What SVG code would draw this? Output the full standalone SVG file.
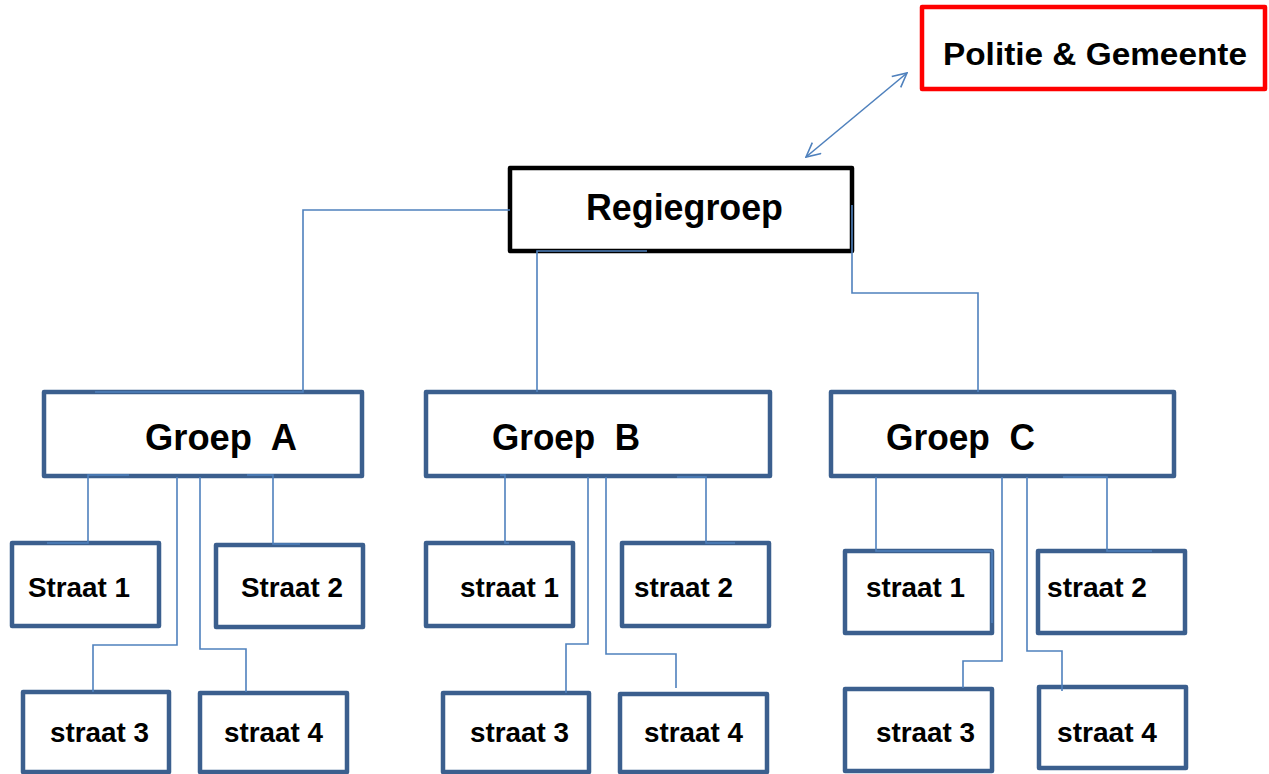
<svg xmlns="http://www.w3.org/2000/svg" width="1269" height="774" viewBox="0 0 1269 774">
<defs>
<style>
.box{fill:#fff;stroke:#3b5f8e;stroke-width:4.5;stroke-linejoin:round}
.reg{fill:#fff;stroke:#000;stroke-width:4.5;stroke-linejoin:round}
.pol{fill:#fff;stroke:#ff0000;stroke-width:4.5;stroke-linejoin:round}
.con{fill:none;stroke:#4f81bd;stroke-width:1.6}
text{font-family:"Liberation Sans",Arial,sans-serif;font-weight:bold;fill:#000}
.s{font-size:28px}
.g{font-size:37px}
</style>
<marker id="ah" viewBox="0 0 16 16" refX="15" refY="8" markerWidth="16" markerHeight="16" markerUnits="userSpaceOnUse" orient="auto-start-reverse">
<path d="M1,1 L15,8 L1,15" fill="none" stroke="#4f81bd" stroke-width="1.6"/>
</marker>
</defs>

<g id="politie">
<rect class="pol" x="922" y="7" width="343" height="82"/>
<text x="943" y="65" font-size="32" textLength="304" lengthAdjust="spacingAndGlyphs">Politie &amp; Gemeente</text>
</g>
<g id="regiegroep">
<rect class="reg" x="510" y="168" width="342" height="83"/>
<text x="586" y="220" font-size="36" textLength="197" lengthAdjust="spacingAndGlyphs">Regiegroep</text>
</g>

<g id="groepA">
<rect class="box" x="44" y="392" width="318" height="84"/>
<text class="g" x="145" y="450" xml:space="preserve" textLength="152" lengthAdjust="spacingAndGlyphs">Groep  A</text>
</g>
<g id="groepB">
<rect class="box" x="426" y="392" width="344" height="84"/>
<text class="g" x="492" y="450" xml:space="preserve" textLength="148" lengthAdjust="spacingAndGlyphs">Groep  B</text>
</g>
<g id="groepC">
<rect class="box" x="831" y="392" width="343" height="84"/>
<text class="g" x="886" y="450" xml:space="preserve" textLength="149" lengthAdjust="spacingAndGlyphs">Groep  C</text>
</g>

<g id="A1"><rect class="box" x="12" y="543" width="147" height="83"/><text class="s" x="28" y="597" textLength="102" lengthAdjust="spacingAndGlyphs">Straat 1</text></g>
<g id="A2"><rect class="box" x="216" y="545" width="147" height="82"/><text class="s" x="241" y="597" textLength="102" lengthAdjust="spacingAndGlyphs">Straat 2</text></g>
<g id="A3"><rect class="box" x="23" y="692" width="146" height="80"/><text class="s" x="50" y="742" textLength="99" lengthAdjust="spacingAndGlyphs">straat 3</text></g>
<g id="A4"><rect class="box" x="200" y="693" width="147" height="79"/><text class="s" x="224" y="742" textLength="99" lengthAdjust="spacingAndGlyphs">straat 4</text></g>

<g id="B1"><rect class="box" x="426" y="543" width="147" height="83"/><text class="s" x="460" y="597" textLength="99" lengthAdjust="spacingAndGlyphs">straat 1</text></g>
<g id="B2"><rect class="box" x="622" y="543" width="147" height="83"/><text class="s" x="634" y="597" textLength="99" lengthAdjust="spacingAndGlyphs">straat 2</text></g>
<g id="B3"><rect class="box" x="443" y="693" width="146" height="79"/><text class="s" x="470" y="742" textLength="99" lengthAdjust="spacingAndGlyphs">straat 3</text></g>
<g id="B4"><rect class="box" x="620" y="694" width="147" height="78"/><text class="s" x="644" y="742" textLength="99" lengthAdjust="spacingAndGlyphs">straat 4</text></g>

<g id="C1"><rect class="box" x="845" y="551" width="147" height="82"/><text class="s" x="866" y="597" textLength="99" lengthAdjust="spacingAndGlyphs">straat 1</text></g>
<g id="C2"><rect class="box" x="1038" y="551" width="147" height="82"/><text class="s" x="1047" y="597" textLength="100" lengthAdjust="spacingAndGlyphs">straat 2</text></g>
<g id="C3"><rect class="box" x="845" y="689" width="147" height="82"/><text class="s" x="876" y="742" textLength="99" lengthAdjust="spacingAndGlyphs">straat 3</text></g>
<g id="C4"><rect class="box" x="1039" y="687" width="147" height="81"/><text class="s" x="1057" y="742" textLength="100" lengthAdjust="spacingAndGlyphs">straat 4</text></g>

<g id="connectors">
<line class="con" x1="907" y1="73" x2="806" y2="157" marker-start="url(#ah)" marker-end="url(#ah)"/>
<path class="con" d="M510,210 H303 V392 H95"/>
<path class="con" d="M647,251 H537 V392"/>
<path class="con" d="M852,205 V293 H978 V392"/>

<path class="con" d="M129,475 H88 V543 H47"/>
<path class="con" d="M247,475 H273 V544 H300"/>
<path class="con" d="M177,477 V645 H93 V692"/>
<path class="con" d="M200,477 V649 H246 V692"/>

<path class="con" d="M500,475 H505 V543 H509"/>
<path class="con" d="M677,477 H706 V543 H735"/>
<path class="con" d="M588,477 V644 H566 V693"/>
<path class="con" d="M606,477 V654 H676 V688"/>

<path class="con" d="M876,477 V551 H992 V623"/>
<path class="con" d="M1063,477 H1107 V551 H1152"/>
<path class="con" d="M1002,477 V661 H963 V688"/>
<path class="con" d="M1027,477 V651 H1062 V691"/>
</g>
</svg>
